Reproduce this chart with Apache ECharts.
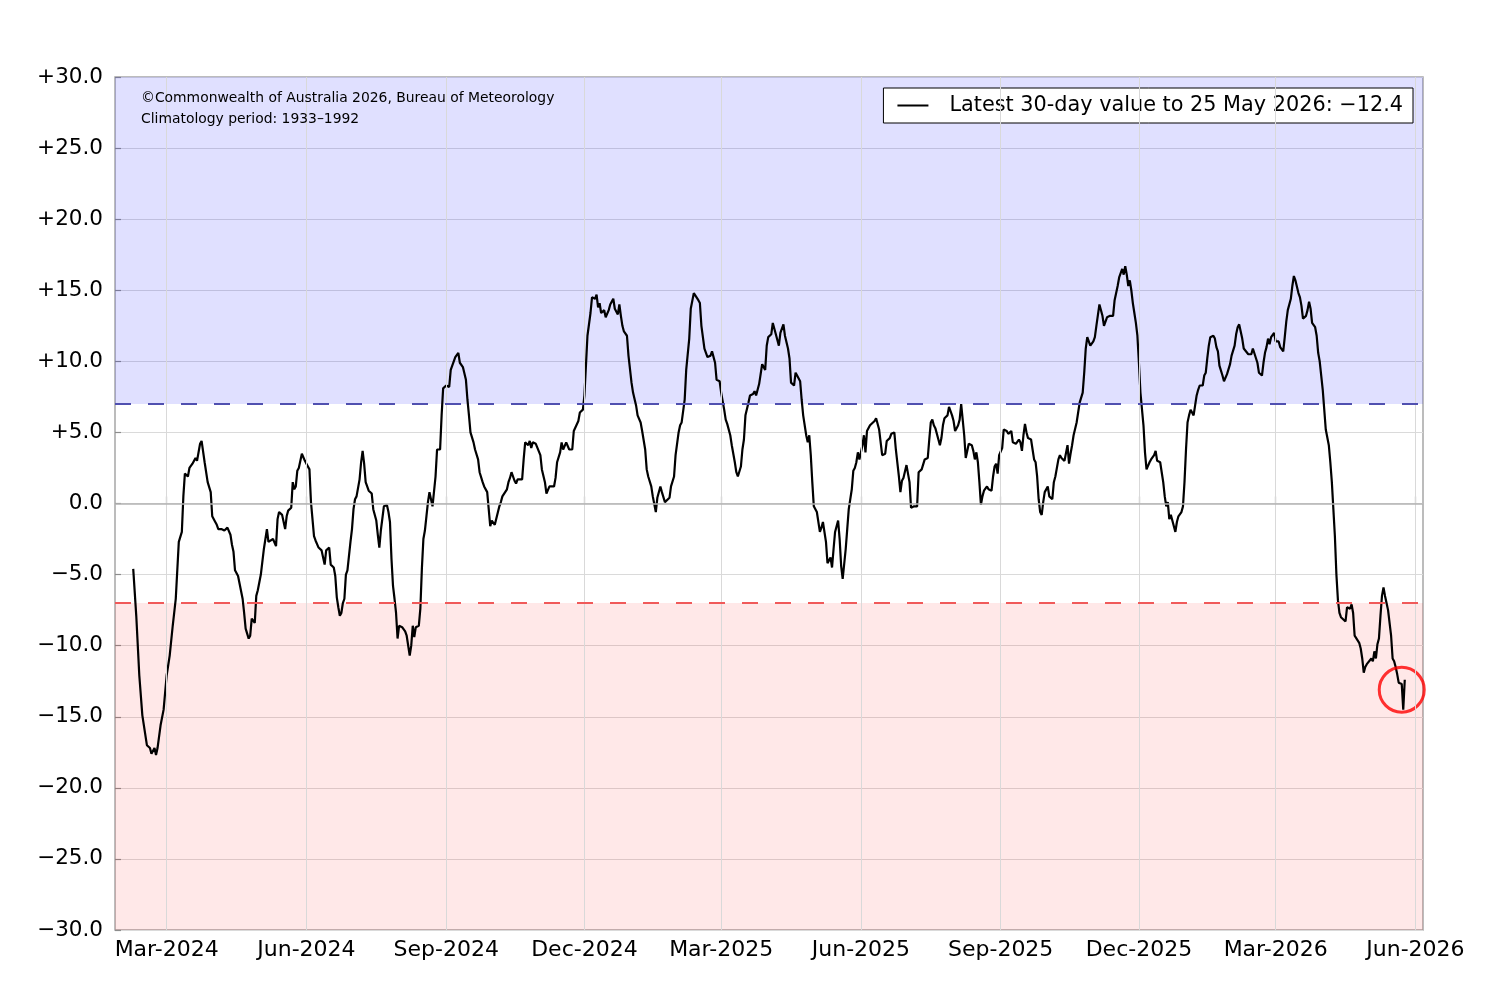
<!DOCTYPE html>
<html>
<head>
<meta charset="utf-8">
<title>30-day SOI</title>
<script src="https://cdn.jsdelivr.net/npm/echarts@6/dist/echarts.min.js"></script>
<style>
  html, body { margin: 0; padding: 0; background: #fff; }
  #chart { width: 1502px; height: 1001px; }
</style>
</head>
<body>
<div id="chart"></div>
<script>
// 30-day SOI values
const soi2024 = [
  ['2024-02-08',-4.6],['2024-02-10',-7.9],['2024-02-12',-12.1],['2024-02-14',-14.9],['2024-02-17',-17.0],['2024-02-19',-17.2],
  ['2024-02-20',-17.6],['2024-02-22',-17.2],['2024-02-23',-17.7],['2024-02-24',-17.2],['2024-02-26',-15.6],['2024-02-28',-14.5],
  ['2024-03-01',-12.1],['2024-03-03',-10.7],['2024-03-05',-8.6],['2024-03-07',-6.7],['2024-03-09',-2.7],['2024-03-11',-2.0],
  ['2024-03-12',0.5],['2024-03-13',2.1],['2024-03-15',1.9],['2024-03-16',2.5],['2024-03-18',2.8],['2024-03-20',3.2],
  ['2024-03-21',3.0],['2024-03-23',4.2],['2024-03-24',4.4],['2024-03-26',2.9],['2024-03-28',1.5],['2024-03-30',0.8],
  ['2024-03-31',-0.9],['2024-04-02',-1.3],['2024-04-03',-1.5],['2024-04-04',-1.8],['2024-04-06',-1.8],['2024-04-08',-1.9],
  ['2024-04-10',-1.7],['2024-04-12',-2.2],['2024-04-13',-2.9],['2024-04-14',-3.4],['2024-04-15',-4.7],['2024-04-17',-5.1],
  ['2024-04-18',-5.0],['2024-04-20',-6.7],['2024-04-21',-7.7],['2024-04-22',-8.8],['2024-04-24',-9.5],['2024-04-25',-9.3],
  ['2024-04-26',-8.1],['2024-04-27',-8.0],['2024-04-28',-8.4],['2024-04-29',-6.5],['2024-04-30',-6.1],['2024-05-02',-5.0],
  ['2024-05-03',-4.9],['2024-05-04',-3.2],['2024-05-06',-1.8],['2024-05-07',-2.7],['2024-05-08',-2.7],['2024-05-10',-2.5],
  ['2024-05-12',-3.0],['2024-05-13',-1.1],['2024-05-14',-0.6],['2024-05-16',-0.8],['2024-05-18',-1.8],['2024-05-19',-0.9],
  ['2024-05-20',-0.5],['2024-05-22',-0.3],['2024-05-23',1.5],['2024-05-24',1.0],['2024-05-25',1.2],['2024-05-26',2.3],
  ['2024-05-27',2.5],['2024-05-29',3.5],['2024-05-30',3.6],['2024-05-31',3.0],['2024-06-01',2.8],['2024-06-03',2.4],
  ['2024-06-04',0.1],['2024-06-06',-2.3],['2024-06-07',-2.6],['2024-06-09',-3.1],['2024-06-10',-3.0],['2024-06-11',-3.3],
  ['2024-06-13',-4.3],['2024-06-14',-3.3],['2024-06-16',-3.1],['2024-06-17',-4.3],['2024-06-19',-4.5],['2024-06-20',-5.1],
  ['2024-06-21',-6.6],['2024-06-22',-7.3],['2024-06-23',-7.9],['2024-06-24',-7.7],['2024-06-25',-7.0],['2024-06-26',-6.7],
  ['2024-06-27',-5.0],['2024-06-28',-4.7],['2024-06-30',-2.7],['2024-07-01',-1.8],['2024-07-02',-0.4],['2024-07-03',0.3],
  ['2024-07-04',0.5],['2024-07-06',1.7],['2024-07-07',2.9],['2024-07-08',3.7],['2024-07-09',2.8],['2024-07-10',1.5],
  ['2024-07-11',1.4],['2024-07-12',0.9],['2024-07-14',0.7],['2024-07-15',-0.4],['2024-07-16',-0.5],['2024-07-17',-1.2],
  ['2024-07-18',-2.2],['2024-07-19',-3.1],['2024-07-20',-1.9],['2024-07-22',-0.2],['2024-07-24',-0.1],['2024-07-25',-0.6],
  ['2024-07-26',-1.3],['2024-07-27',-3.9],['2024-07-28',-5.8],['2024-07-29',-6.7],['2024-07-30',-7.7],['2024-07-31',-9.5],
  ['2024-08-01',-8.6],['2024-08-03',-8.7],['2024-08-05',-9.0],['2024-08-06',-9.3],['2024-08-08',-10.7],['2024-08-09',-10.0],
  ['2024-08-10',-8.6],['2024-08-11',-9.4],['2024-08-12',-8.7],['2024-08-14',-8.6],['2024-08-15',-7.4],['2024-08-16',-4.6],
  ['2024-08-17',-2.5],['2024-08-18',-1.9],['2024-08-19',-0.9],['2024-08-20',0.1],['2024-08-21',0.8],['2024-08-23',-0.2],
  ['2024-08-24',-0.3],['2024-08-25',1.9],['2024-08-26',3.8],['2024-08-28',3.8],['2024-08-29',6.2],['2024-08-30',8.1],
  ['2024-09-01',8.3],['2024-09-03',8.2],['2024-09-04',9.4],['2024-09-05',9.7],['2024-09-07',10.3],['2024-09-08',10.3],
  ['2024-09-09',10.6],['2024-09-10',9.9],['2024-09-12',9.6],['2024-09-14',8.7],['2024-09-15',7.3],['2024-09-16',6.2],
  ['2024-09-17',5.0],['2024-09-19',4.3],['2024-09-20',3.8],['2024-09-22',3.1],['2024-09-23',2.2],['2024-09-25',1.5],
  ['2024-09-26',1.2],['2024-09-28',0.8],['2024-09-29',-0.4],['2024-09-30',-1.6],['2024-10-01',-1.2],['2024-10-03',-1.5],
  ['2024-10-04',-1.5],['2024-10-06',-0.2],['2024-10-07',0.1],['2024-10-08',0.5],['2024-10-09',0.5],['2024-10-11',1.0],
  ['2024-10-12',1.5],['2024-10-13',1.8],['2024-10-14',2.2],['2024-10-16',1.6],['2024-10-17',1.4],['2024-10-18',1.7],
  ['2024-10-19',1.6],['2024-10-21',1.7],['2024-10-22',3.1],['2024-10-23',4.3],['2024-10-25',4.1],['2024-10-26',4.4],
  ['2024-10-27',3.9],['2024-10-28',4.3],['2024-10-30',4.2],['2024-10-31',4.2],['2024-11-02',3.4],['2024-11-03',2.4],
  ['2024-11-05',1.5],['2024-11-06',0.7],['2024-11-08',1.2],['2024-11-09',1.2],['2024-11-11',1.2],['2024-11-12',1.8],
  ['2024-11-13',2.9],['2024-11-15',3.6],['2024-11-16',4.3],['2024-11-17',3.8],['2024-11-19',4.3],['2024-11-20',4.4],
  ['2024-11-21',3.8],['2024-11-23',3.8],['2024-11-24',5.1],['2024-11-25',5.2],['2024-11-27',5.8],['2024-11-28',6.4],
  ['2024-11-30',6.6],['2024-12-01',7.6],['2024-12-02',9.7],['2024-12-03',11.8],['2024-12-05',13.4],['2024-12-06',14.5],
  ['2024-12-07',14.6],['2024-12-08',14.4],['2024-12-09',14.7],['2024-12-10',13.8],['2024-12-11',14.1],['2024-12-12',13.4],
  ['2024-12-14',13.6],['2024-12-15',13.1],['2024-12-17',13.6],['2024-12-18',14.0],['2024-12-20',14.4],['2024-12-21',13.7],
  ['2024-12-22',13.6],['2024-12-23',13.3],['2024-12-24',14.0],['2024-12-25',13.2],['2024-12-26',12.5],['2024-12-27',12.1],
  ['2024-12-29',11.8],['2024-12-30',10.4]
];
const soi2025 = [
  ['2025-01-01',8.5],['2025-01-02',7.8],['2025-01-04',6.9],['2025-01-05',6.2],['2025-01-07',5.7],['2025-01-08',5.1],
  ['2025-01-10',3.8],['2025-01-11',2.4],['2025-01-12',1.9],['2025-01-14',1.2],['2025-01-15',0.5],['2025-01-17',-0.6],
  ['2025-01-18',0.4],['2025-01-20',1.2],['2025-01-21',0.8],['2025-01-23',0.1],['2025-01-24',0.2],['2025-01-26',0.4],
  ['2025-01-27',1.2],['2025-01-29',1.9],['2025-01-30',3.4],['2025-02-01',5.0],['2025-02-02',5.5],['2025-02-03',5.7],
  ['2025-02-05',7.3],['2025-02-06',9.4],['2025-02-08',11.6],['2025-02-09',13.7],['2025-02-11',14.8],['2025-02-12',14.7],
  ['2025-02-14',14.3],['2025-02-15',14.1],['2025-02-16',12.5],['2025-02-18',10.9],['2025-02-20',10.3],['2025-02-21',10.3],
  ['2025-02-22',10.4],['2025-02-23',10.7],['2025-02-25',9.9],['2025-02-26',8.7],['2025-02-28',8.6],['2025-03-01',7.8],
  ['2025-03-03',6.6],['2025-03-04',5.9],['2025-03-05',5.6],['2025-03-07',4.8],['2025-03-08',4.1],['2025-03-10',2.9],
  ['2025-03-11',2.2],['2025-03-12',1.9],['2025-03-14',2.6],['2025-03-15',3.8],['2025-03-16',4.5],['2025-03-17',6.2],
  ['2025-03-19',7.1],['2025-03-20',7.6],['2025-03-22',7.7],['2025-03-23',7.9],['2025-03-24',7.6],['2025-03-26',8.4],
  ['2025-03-27',9.1],['2025-03-28',9.8],['2025-03-30',9.4],['2025-03-31',11.1],['2025-04-01',11.7],['2025-04-03',11.9],
  ['2025-04-04',12.7],['2025-04-06',11.9],['2025-04-07',11.8],['2025-04-08',11.1],['2025-04-09',12.0],['2025-04-11',12.6],
  ['2025-04-12',11.8],['2025-04-13',11.7],['2025-04-14',10.9],['2025-04-15',10.2],['2025-04-16',8.5],['2025-04-18',8.3],
  ['2025-04-19',9.2],['2025-04-20',9.0],['2025-04-22',8.6],['2025-04-23',7.3],['2025-04-24',6.2],['2025-04-26',4.8],
  ['2025-04-27',4.3],['2025-04-28',4.8],['2025-04-29',3.4],['2025-04-30',1.5],['2025-05-01',-0.2],['2025-05-03',-0.6],
  ['2025-05-04',-0.6],['2025-05-05',-2.0],['2025-05-06',-1.7],['2025-05-07',-1.3],['2025-05-09',-2.7],['2025-05-10',-4.2],
  ['2025-05-11',-4.0],['2025-05-12',-3.8],['2025-05-13',-4.5],['2025-05-14',-3.2],['2025-05-15',-2.0],['2025-05-17',-1.2],
  ['2025-05-18',-2.5],['2025-05-19',-4.4],['2025-05-20',-5.3],['2025-05-22',-3.2],['2025-05-23',-1.8],['2025-05-24',-0.4],
  ['2025-05-26',1.0],['2025-05-27',2.3],['2025-05-28',2.5],['2025-05-29',2.9],['2025-05-30',3.6],['2025-05-31',3.1],
  ['2025-06-02',4.1],['2025-06-03',4.8],['2025-06-04',3.6],['2025-06-05',5.1],['2025-06-07',5.5],['2025-06-08',5.6],
  ['2025-06-10',5.8],['2025-06-11',6.0],['2025-06-13',5.2],['2025-06-14',4.3],['2025-06-15',3.4],['2025-06-17',3.5],
  ['2025-06-18',4.4],['2025-06-20',4.6],['2025-06-21',4.9],['2025-06-23',5.0],['2025-06-24',3.8],['2025-06-26',1.9],
  ['2025-06-27',0.8],['2025-06-28',1.6],['2025-06-29',1.8],['2025-07-01',2.7],['2025-07-02',2.8],['2025-07-03',1.5],
  ['2025-07-04',-0.3],['2025-07-06',-0.2],['2025-07-08',-0.2],['2025-07-09',2.2],['2025-07-11',2.4],['2025-07-12',2.4],
  ['2025-07-13',3.1],['2025-07-15',3.2],['2025-07-16',4.5],['2025-07-17',5.7],['2025-07-18',5.9],['2025-07-19',5.5],
  ['2025-07-20',5.3],['2025-07-22',4.5],['2025-07-23',4.1],['2025-07-24',4.6],['2025-07-25',5.5],['2025-07-26',6.0],
  ['2025-07-28',6.2],['2025-07-29',6.8],['2025-07-31',6.2],['2025-08-01',5.8],['2025-08-02',5.1],['2025-08-03',5.3],
  ['2025-08-04',5.5],['2025-08-05',5.9],['2025-08-06',7.0],['2025-08-07',5.9],['2025-08-08',4.8],['2025-08-09',3.2],
  ['2025-08-10',3.7],['2025-08-11',4.2],['2025-08-13',4.1],['2025-08-14',3.7],['2025-08-15',3.1],['2025-08-16',3.6],
  ['2025-08-17',2.9],['2025-08-18',1.5],['2025-08-19',-0.1],['2025-08-20',0.5],['2025-08-21',0.9],['2025-08-22',0.9],
  ['2025-08-23',1.2],['2025-08-24',1.0],['2025-08-26',0.9],['2025-08-27',1.9],['2025-08-28',2.6],['2025-08-29',2.8],
  ['2025-08-30',2.1],['2025-08-31',3.4],['2025-09-02',3.9],['2025-09-03',5.2],['2025-09-05',5.1],['2025-09-06',4.9],
  ['2025-09-07',4.8],['2025-09-08',5.1],['2025-09-09',4.3],['2025-09-11',4.2],['2025-09-12',4.1],['2025-09-13',4.5],
  ['2025-09-14',4.3],['2025-09-15',3.7],['2025-09-16',4.8],['2025-09-17',5.6],['2025-09-18',5.0],['2025-09-19',4.6],
  ['2025-09-21',4.5],['2025-09-22',3.8],['2025-09-23',3.1],['2025-09-24',2.9],['2025-09-25',1.9],['2025-09-26',0.3],
  ['2025-09-27',-0.6],['2025-09-28',-0.8],['2025-09-29',0.1],['2025-09-30',0.8],['2025-10-02',1.2],['2025-10-03',0.5],
  ['2025-10-04',0.4],['2025-10-05',0.3],['2025-10-06',1.5],['2025-10-07',1.9],['2025-10-09',3.1],['2025-10-10',3.4],
  ['2025-10-11',3.2],['2025-10-13',3.0],['2025-10-14',3.0],['2025-10-15',4.1],['2025-10-16',2.8],['2025-10-17',3.5],
  ['2025-10-18',4.1],['2025-10-19',4.8],['2025-10-20',4.9],['2025-10-21',5.7],['2025-10-22',6.4],['2025-10-23',7.1],
  ['2025-10-25',7.8],['2025-10-26',9.2],['2025-10-27',10.9],['2025-10-28',11.7],['2025-10-29',11.6],['2025-10-30',11.1],
  ['2025-10-31',11.0],['2025-11-01',11.4],['2025-11-02',11.7],['2025-11-03',12.5],['2025-11-05',14.0],['2025-11-06',14.1],
  ['2025-11-07',13.2],['2025-11-08',12.5],['2025-11-09',12.6],['2025-11-10',13.1],['2025-11-12',13.2],['2025-11-14',13.2],
  ['2025-11-15',14.3],['2025-11-17',15.3],['2025-11-18',15.9],['2025-11-19',16.0],['2025-11-20',16.5],['2025-11-21',16.1],
  ['2025-11-22',16.7],['2025-11-23',16.1],['2025-11-24',15.3],['2025-11-25',15.7],['2025-11-26',15.0],['2025-11-27',14.1],
  ['2025-11-28',13.4],['2025-11-29',12.7],['2025-11-30',11.8],['2025-12-01',9.9],['2025-12-02',7.8],['2025-12-04',5.5],
  ['2025-12-05',3.6],['2025-12-06',2.4],['2025-12-07',2.3],['2025-12-08',2.9],['2025-12-09',3.1],['2025-12-10',3.0],
  ['2025-12-11',3.4],['2025-12-12',3.7],['2025-12-13',3.0],['2025-12-15',2.9],['2025-12-16',2.2],['2025-12-17',1.5],
  ['2025-12-18',0.5],['2025-12-19',-0.2],['2025-12-20',0.1],['2025-12-21',-1.1],['2025-12-22',-0.8],['2025-12-23',-1.2],
  ['2025-12-25',-2.0],['2025-12-26',-1.3],['2025-12-27',-0.9],['2025-12-29',-0.6],['2025-12-30',-0.2],['2025-12-31',1.5]
];
const soi2026 = [
  ['2026-01-01',3.8],['2026-01-02',5.7],['2026-01-03',6.2],['2026-01-04',6.6],['2026-01-06',6.2],['2026-01-07',6.9],
  ['2026-01-08',7.6],['2026-01-09',8.0],['2026-01-10',8.3],['2026-01-12',8.3],['2026-01-13',9.0],['2026-01-14',9.2],
  ['2026-01-15',10.2],['2026-01-16',11.1],['2026-01-17',11.7],['2026-01-19',11.8],['2026-01-20',11.6],['2026-01-21',11.0],
  ['2026-01-22',10.7],['2026-01-23',9.7],['2026-01-25',9.0],['2026-01-26',8.6],['2026-01-27',8.5],['2026-01-28',9.1],
  ['2026-01-29',9.2],['2026-01-30',9.8],['2026-01-31',10.4],['2026-02-02',11.1],['2026-02-03',11.9],['2026-02-04',12.4],
  ['2026-02-05',12.6],['2026-02-06',12.1],['2026-02-07',11.6],['2026-02-08',10.9],['2026-02-11',10.5],['2026-02-13',10.5],
  ['2026-02-14',10.9],['2026-02-15',10.9],['2026-02-17',9.9],['2026-02-18',9.2],['2026-02-20',9.0],['2026-02-21',9.9],
  ['2026-02-22',10.6],['2026-02-23',11.0],['2026-02-24',11.6],['2026-02-25',11.2],['2026-02-26',11.7],['2026-02-27',11.6],
  ['2026-02-28',12.0],['2026-03-01',11.4],['2026-03-03',11.4],['2026-03-04',11.0],['2026-03-06',10.7],['2026-03-07',11.7],
  ['2026-03-08',12.8],['2026-03-09',13.6],['2026-03-11',14.4],['2026-03-12',15.3],['2026-03-13',16.0],['2026-03-14',15.7],
  ['2026-03-16',14.8],['2026-03-17',14.5],['2026-03-18',13.9],['2026-03-19',13.0],['2026-03-21',13.2],['2026-03-22',13.6],
  ['2026-03-23',14.2],['2026-03-24',13.7],['2026-03-25',12.7],['2026-03-27',12.4],['2026-03-28',11.8],['2026-03-29',10.6],
  ['2026-03-30',10.0],['2026-03-31',9.0],['2026-04-01',8.0],['2026-04-02',6.6],['2026-04-03',5.2],['2026-04-05',4.1],
  ['2026-04-06',2.9],['2026-04-07',1.5],['2026-04-08',-0.4],['2026-04-09',-2.3],['2026-04-10',-5.0],['2026-04-11',-6.8],
  ['2026-04-12',-7.7],['2026-04-13',-8.0],['2026-04-14',-7.9],['2026-04-16',-8.3],['2026-04-17',-7.3],['2026-04-18',-7.2],
  ['2026-04-19',-7.4],['2026-04-20',-7.1],['2026-04-21',-7.7],['2026-04-22',-9.3],['2026-04-23',-9.2],['2026-04-25',-9.8],
  ['2026-04-26',-10.2],['2026-04-27',-10.9],['2026-04-28',-11.9],['2026-04-29',-11.5],['2026-04-30',-11.3],['2026-05-01',-11.2],
  ['2026-05-03',-10.9],['2026-05-04',-11.1],['2026-05-05',-10.4],['2026-05-06',-10.9],['2026-05-07',-9.9],['2026-05-08',-9.5],
  ['2026-05-09',-7.9],['2026-05-10',-6.5],['2026-05-11',-5.9],['2026-05-12',-6.5],['2026-05-13',-7.0],['2026-05-14',-7.5],
  ['2026-05-15',-7.4],['2026-05-16',-9.3],['2026-05-17',-10.9],['2026-05-18',-11.1],['2026-05-19',-11.5],['2026-05-20',-12.0],
  ['2026-05-21',-12.6],['2026-05-23',-12.7],['2026-05-24',-14.5],['2026-05-25',-12.4]
];

// axis ticks and thresholds
const tickDates = ['2024-03-01','2024-06-01','2024-09-01','2024-12-01','2025-03-01',
                   '2025-06-01','2025-09-01','2025-12-01','2026-03-01','2026-06-01'];
const tickLabels = ['Mar-2024','Jun-2024','Sep-2024','Dec-2024','Mar-2025',
                    'Jun-2025','Sep-2025','Dec-2025','Mar-2026','Jun-2026'];
const xRange = ['2024-01-27', '2026-06-06'];
const yMin = -30, yMax = 30, yStep = 5;
const upperThreshold = 7, lowerThreshold = -7;
const highlight = ['2026-05-23', -13.1];   // red ring around the latest value

const FONT = 'DejaVu Sans';
const MONTHS = ['Jan','Feb','Mar','Apr','May','Jun','Jul','Aug','Sep','Oct','Nov','Dec'];
const MINUS = '\u2212';

const soi = soi2024.concat(soi2025, soi2026);
const latest = soi[soi.length - 1];

function toTime(s) {
  const p = s.split('-').map(Number);
  return new Date(p[0], p[1] - 1, p[2]).getTime();
}
function signed(v) {
  if (v === 0) return '0.0';
  return (v > 0 ? '+' : MINUS) + Math.abs(v).toFixed(1);
}
function longDate(s) {
  const p = s.split('-').map(Number);
  return p[2] + ' ' + MONTHS[p[1] - 1] + ' ' + p[0];
}

// the x axis is a plain value axis in milliseconds, so ticks can sit on month starts
const tickTimes = tickDates.map(toTime);
const soiPoints = soi.map(function (d) { return [toTime(d[0]), d[1]]; });
const seriesName = 'Latest 30-day value to ' + longDate(latest[0]) + ': ' +
  (latest[1] < 0 ? MINUS : '') + Math.abs(latest[1]).toFixed(1);

const chart = echarts.init(document.getElementById('chart'));

const gridLineStyle = { color: '#d9d9d9', width: 1, type: 'solid' };

chart.setOption({
  animation: false,
  backgroundColor: '#fff',
  textStyle: { fontFamily: FONT },
  title: {
    text: '\u00a9Commonwealth of Australia 2026, Bureau of Meteorology\nClimatology period: 1933\u20131992',
    left: 141,
    top: 88,
    padding: 0,
    textStyle: { fontFamily: FONT, fontSize: 13.9, fontWeight: 'normal', color: '#000', lineHeight: 21 }
  },
  legend: {
    data: [{ name: seriesName, icon: 'rect' }],
    right: 89,
    top: 88,
    itemWidth: 31,
    itemHeight: 2,
    padding: [7, 10, 7, 14],
    backgroundColor: '#fff',
    borderColor: '#000',
    borderWidth: 1,
    borderRadius: 0,
    selectedMode: false,
    textStyle: { fontFamily: FONT, fontSize: 20.8, color: '#000', padding: [0, 0, 0, 16] }
  },
  grid: {
    left: 115, right: 79, top: 77, bottom: 71,
    show: true,
    borderColor: '#a6a6a6',
    borderWidth: 1.5,
    backgroundColor: 'transparent'
  },
  xAxis: {
    type: 'value',
    min: toTime(xRange[0]),
    max: toTime(xRange[1]),
    axisLine: { show: false },
    splitLine: { show: false },
    axisTick: {
      show: true, inside: true, length: 7,
      customValues: tickTimes,
      lineStyle: { color: '#8c8c8c', width: 1.2 }
    },
    axisLabel: {
      customValues: tickTimes,
      formatter: function (v) {
        const i = tickTimes.indexOf(v);
        return i >= 0 ? tickLabels[i] : '';
      },
      fontFamily: FONT,
      fontSize: 22,
      color: '#000',
      margin: 9,
      hideOverlap: false
    }
  },
  yAxis: {
    type: 'value',
    min: yMin,
    max: yMax,
    interval: yStep,
    axisLine: { show: false },
    axisTick: { show: true, inside: true, length: 6, lineStyle: { color: '#8c8c8c', width: 1.2 } },
    axisLabel: { formatter: signed, fontFamily: FONT, fontSize: 21.5, color: '#000', margin: 12 },
    splitLine: { show: true, lineStyle: { color: '#dadada', width: 1 } }
  },
  series: [
    {
      // backdrop: shaded bands, threshold lines, vertical grid
      type: 'line',
      data: [],
      silent: true,
      z: 1,
      markArea: {
        silent: true,
        data: [
          [{ yAxis: upperThreshold, itemStyle: { color: 'rgba(0,0,255,0.12)' } }, { yAxis: yMax }],
          [{ yAxis: yMin, itemStyle: { color: 'rgba(255,0,0,0.09)' } }, { yAxis: lowerThreshold }]
        ]
      },
      markLine: {
        silent: true,
        symbol: 'none',
        label: { show: false },
        data: tickTimes.map(function (t) { return { xAxis: t, lineStyle: gridLineStyle }; }).concat([
          { yAxis: 0, lineStyle: { color: '#b3b3b3', width: 1.5, type: 'solid' } },
          { yAxis: upperThreshold, lineStyle: { color: '#5050b0', width: 1.8, type: [16, 17] } },
          { yAxis: lowerThreshold, lineStyle: { color: '#f05a5a', width: 1.8, type: [16, 17] } }
        ])
      }
    },
    {
      name: seriesName,
      type: 'line',
      data: soiPoints,
      symbol: 'none',
      showSymbol: false,
      silent: true,
      z: 3,
      itemStyle: { color: '#000' },
      lineStyle: { color: '#000', width: 2.2 }
    },
    {
      type: 'scatter',
      data: [[toTime(highlight[0]), highlight[1]]],
      symbol: 'circle',
      symbolSize: 45,
      silent: true,
      z: 4,
      itemStyle: { color: 'rgba(0,0,0,0)', borderColor: '#ff0000', borderWidth: 3 }
    }
  ]
});
</script>
</body>
</html>
